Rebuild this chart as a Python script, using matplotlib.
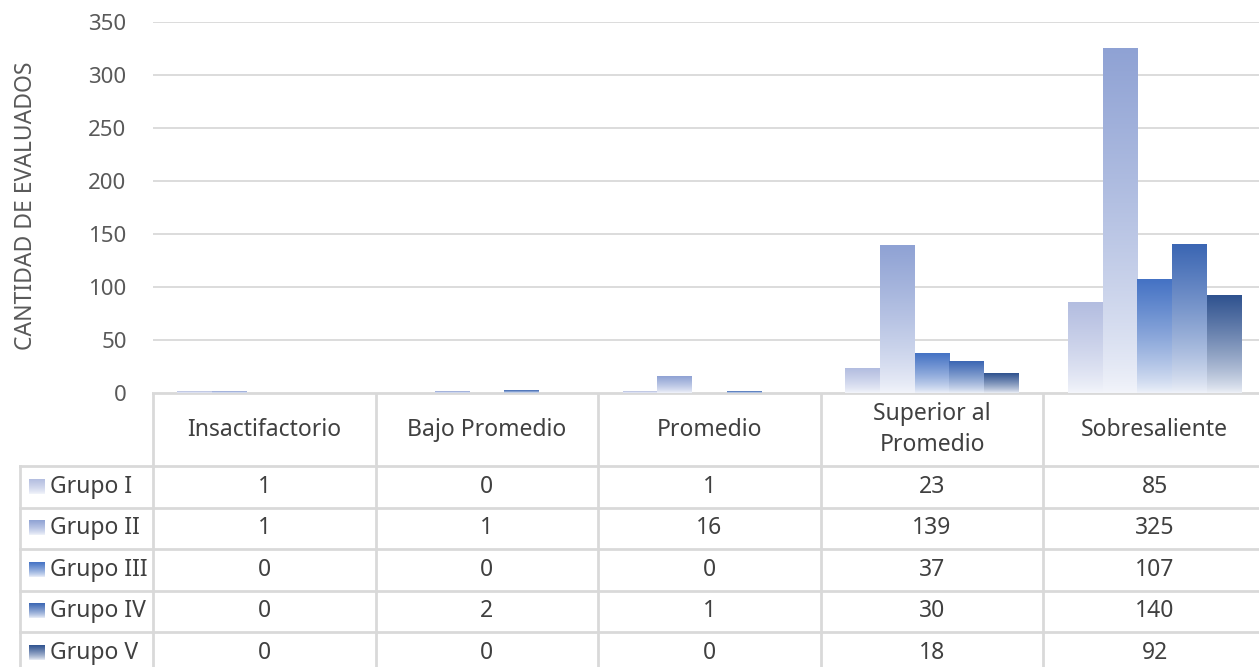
import numpy as np
import matplotlib.pyplot as plt
from matplotlib.colors import to_rgb

plt.rcParams['font.family'] = ['Noto Sans', 'DejaVu Sans']

# data
categories = ['Insactifactorio', 'Bajo Promedio', 'Promedio', 'Superior al\nPromedio', 'Sobresaliente']
groups = ['Grupo I', 'Grupo II', 'Grupo III', 'Grupo IV', 'Grupo V']
grupo_1 = [1, 0, 1, 23, 85]
grupo_2 = [1, 1, 16, 139, 325]
grupo_3 = [0, 0, 0, 37, 107]
grupo_4 = [0, 2, 1, 30, 140]
grupo_5 = [0, 0, 0, 18, 92]
series = [grupo_1, grupo_2, grupo_3, grupo_4, grupo_5]
colors = ['#b3bde0', '#8fa2d4', '#4472c4', '#3b66b3', '#2f528f']
yticks = [0, 50, 100, 150, 200, 250, 300, 350]

W, H = 1259, 667
fig = plt.figure(figsize=(W / 100, H / 100), dpi=100)
fs = 16.5

# pixel layout (the plot area runs slightly past the right edge of the image)
px_left, px_right, px_top, px_bottom = 153, 1266, 22, 393
ax = fig.add_axes([px_left / W, (H - px_bottom) / H, (px_right - px_left) / W, (px_bottom - px_top) / H])
ax.set_xlim(-0.5, len(categories) - 0.5)
ax.set_ylim(0, 350)
ax.set_yticks(yticks)
ax.set_xticks([])
for s in ['top', 'right', 'left', 'bottom']:
    ax.spines[s].set_visible(False)
ax.yaxis.grid(True, color='#d9d9d9', lw=1.3)
ax.set_axisbelow(True)
ax.tick_params(axis='y', length=0, labelsize=16, labelcolor='#595959', pad=19)
ax.set_ylabel('CANTIDAD DE EVALUADOS', fontsize=fs, color='#595959')
ax.yaxis.set_label_coords((38 - px_left) / (px_right - px_left), 0.505)


def gradient(color, n=256):
    c = np.array(to_rgb(color))
    t = np.linspace(0, 1, n)[:, None]          # 0 bottom, 1 top
    w = 0.04 + 0.96 * np.clip(t, 0, 1) ** 0.75
    img = (1 - w) * np.array([0.97, 0.975, 0.99]) + w * c
    return img[:, None, :]


bw = 0.156
x = np.arange(len(categories))
for j, (vals, col) in enumerate(zip(series, colors)):
    img = gradient(col)
    for i, v in enumerate(vals):
        if v <= 0:
            continue
        x0 = x[i] + (j - 2.5) * bw
        ax.imshow(img, extent=[x0, x0 + bw, 0, v], origin='lower',
                  aspect='auto', zorder=3, interpolation='bilinear')
ax.set_xlim(-0.5, len(categories) - 0.5)
ax.set_ylim(0, 350)

# table below the plot, drawn in pixel coordinates
tab = fig.add_axes([0, 0, 1, 1], zorder=-1)
tab.axis('off')
line_c = '#d9d9d9'
col_edges = np.linspace(px_left, px_right, len(categories) + 1)
header_bottom = 466
row_h = 41.5
row_edges = [header_bottom + k * row_h for k in range(len(groups) + 1)]
leg_left = 20

tab.plot([px_left, W], [px_bottom, px_bottom], color=line_c, lw=2)
for xe in col_edges[:-1]:
    tab.plot([xe, xe], [px_bottom, H], color=line_c, lw=2)
tab.plot([leg_left, leg_left], [header_bottom, H], color=line_c, lw=2)
for ye in row_edges[:-1]:
    tab.plot([leg_left, W], [ye, ye], color=line_c, lw=2)

centers = (col_edges[:-1] + col_edges[1:]) / 2
for i, cat in enumerate(categories):
    tab.text(centers[i], (px_bottom + header_bottom) / 2, cat, ha='center', va='center',
             fontsize=fs, color='#404040', linespacing=1.4)

for j, (name, vals, col) in enumerate(zip(groups, series, colors)):
    yc = row_edges[j] + row_h / 2
    tab.imshow(gradient(col)[::-1], extent=[29, 45, yc + 7, yc - 8],
               aspect='auto', zorder=2)
    tab.text(50, yc, name, ha='left', va='center', fontsize=fs, color='#404040')
    for i, v in enumerate(vals):
        tab.text(centers[i], yc, str(v), ha='center', va='center', fontsize=fs, color='#404040')
tab.set_xlim(0, W)
tab.set_ylim(H, 0)

fig.savefig('out.png', dpi=100)
